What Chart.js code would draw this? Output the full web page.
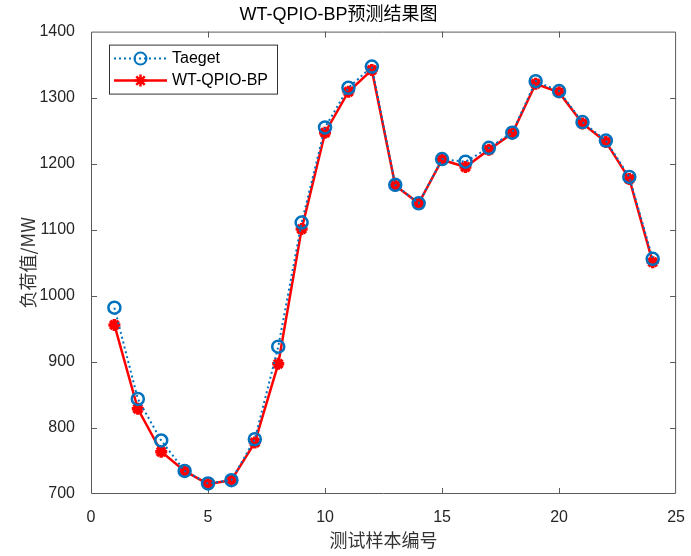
<!DOCTYPE html>
<html>
<head>
<meta charset="utf-8">
<script src="https://cdn.jsdelivr.net/npm/chart.js@4/dist/chart.umd.min.js"></script>
<style>
    html, body { margin: 0; padding: 0; background: #fff; }
</style>
</head>
<body>
<canvas id="load-chart" width="691" height="556"></canvas>
<script>
const sample_ids = [1, 2, 3, 4, 5, 6, 7, 8, 9, 10, 11, 12, 13, 14, 15, 16, 17, 18, 19, 20, 21, 22, 23, 24];
const target_values = [982, 844, 781, 735, 716, 721, 783, 923, 1111, 1255, 1315, 1347, 1168, 1140, 1207, 1203, 1224, 1247, 1325, 1310, 1263, 1235, 1180, 1056];
const predicted_values = [956, 829, 764, 735, 715, 721, 778, 897, 1101, 1247, 1309, 1342, 1167, 1140, 1206, 1195, 1221, 1246, 1321, 1308, 1261, 1233, 1177, 1051];
const x_ticks = [0, 5, 10, 15, 20, 25];
const y_ticks = [700, 800, 900, 1000, 1100, 1200, 1300, 1400];

const axis_color = "#262626";
const tick_font = { family: "'Liberation Sans', Arial, sans-serif", size: 16 };
const cjk_font = { family: "'Noto Sans CJK SC', sans-serif", size: 18 };

// MATLAB style box with inward ticks on all four sides
const box_plugin = {
    id: "box_plugin",
    beforeDatasetsDraw(chart) {
        const { ctx, chartArea: a, scales } = chart;
        const len = 6;
        ctx.save();
        ctx.strokeStyle = "#5a5a5a";
        ctx.lineWidth = 1;
        ctx.beginPath();
        ctx.rect(a.left + 0.5, a.top + 0.5, a.right - a.left - 1, a.bottom - a.top - 1);
        x_ticks.slice(1, -1).forEach((v) => {
            const px = Math.round(scales.x.getPixelForValue(v)) + 0.5;
            ctx.moveTo(px, a.bottom); ctx.lineTo(px, a.bottom - len);
            ctx.moveTo(px, a.top); ctx.lineTo(px, a.top + len);
        });
        y_ticks.slice(1, -1).forEach((v) => {
            const py = Math.round(scales.y.getPixelForValue(v)) + 0.5;
            ctx.moveTo(a.left, py); ctx.lineTo(a.left + len, py);
            ctx.moveTo(a.right, py); ctx.lineTo(a.right - len, py);
        });
        ctx.stroke();
        ctx.restore();
    }
};

// legend drawn like MATLAB: line sample with marker in the middle
const legend_plugin = {
    id: "legend_plugin",
    afterDraw(chart) {
        const { ctx, chartArea: a } = chart;
        const x0 = a.left + 18, y0 = a.top + 13, w = 168, h = 49;
        ctx.save();
        ctx.fillStyle = "#fff";
        ctx.fillRect(x0, y0, w, h);
        ctx.strokeStyle = "#333";
        ctx.lineWidth = 1;
        ctx.strokeRect(x0 + 0.5, y0 + 0.5, w, h);

        chart.data.datasets.forEach((ds, i) => {
            const cy = y0 + 14 + i * 22;
            const lx1 = x0 + 5, lx2 = x0 + 58, mx = (lx1 + lx2) / 2;
            ctx.strokeStyle = ds.borderColor;
            ctx.lineWidth = ds.borderWidth;
            ctx.setLineDash(ds.borderDash || []);
            ctx.beginPath();
            ctx.moveTo(lx1, cy); ctx.lineTo(lx2, cy);
            ctx.stroke();
            ctx.setLineDash([]);
            ctx.strokeStyle = ds.pointBorderColor;
            ctx.fillStyle = ds.pointBackgroundColor;
            Chart.helpers.drawPoint(ctx, {
                pointStyle: ds.pointStyle,
                radius: ds.pointRadius,
                borderWidth: ds.pointBorderWidth,
                rotation: 0
            }, mx, cy);
            ctx.fillStyle = "#000";
            ctx.font = "16px 'Liberation Sans', Arial, sans-serif";
            ctx.textBaseline = "middle";
            ctx.textAlign = "left";
            ctx.fillText(ds.label, x0 + 63, cy);
        });
        ctx.restore();
    }
};

const ctx = document.getElementById("load-chart").getContext("2d");

new Chart(ctx, {
    type: "line",
    data: {
        datasets: [
            {
                label: "Taeget",
                data: sample_ids.map((x, i) => ({ x, y: target_values[i] })),
                borderColor: "#0072BD",
                borderWidth: 2,
                borderDash: [2, 3],
                pointStyle: "circle",
                pointRadius: 6,
                pointBorderWidth: 2.5,
                pointBorderColor: "#0072BD",
                pointBackgroundColor: "rgba(0,0,0,0)",
                tension: 0
            },
            {
                label: "WT-QPIO-BP",
                data: sample_ids.map((x, i) => ({ x, y: predicted_values[i] })),
                borderColor: "#FF0000",
                borderWidth: 2.5,
                pointStyle: "star",
                pointRadius: 6,
                pointBorderWidth: 3.5,
                pointBorderColor: "#FF0000",
                pointBackgroundColor: "#FF0000",
                tension: 0
            }
        ]
    },
    options: {
        responsive: false,
        animation: false,
        devicePixelRatio: 1,
        layout: { padding: { top: 0, right: 14, bottom: 0, left: 0 } },
        plugins: {
            legend: { display: false },
            tooltip: { enabled: false },
            title: {
                display: true,
                text: "WT-QPIO-BP预测结果图",
                color: "#000",
                font: { family: "'Liberation Sans', 'Noto Sans CJK SC', sans-serif", size: 18, weight: "normal" },
                padding: { top: 4, bottom: 6 }
            }
        },
        scales: {
            x: {
                type: "linear",
                min: 0,
                max: 25,
                afterBuildTicks: (scale) => { scale.ticks = x_ticks.map((value) => ({ value })); },
                afterFit: (scale) => { scale.height = 62; },
                grid: { display: false },
                border: { display: false },
                ticks: { color: axis_color, font: tick_font, padding: 6, maxRotation: 0, callback: (v) => String(v) },
                title: { display: true, text: "测试样本编号", color: "#333", font: cjk_font, padding: { top: 0, bottom: 5 } }
            },
            y: {
                min: 700,
                max: 1400,
                afterBuildTicks: (scale) => { scale.ticks = y_ticks.map((value) => ({ value })); },
                afterFit: (scale) => { scale.width = 91; },
                grid: { display: false },
                border: { display: false },
                ticks: { color: axis_color, font: tick_font, padding: 8, callback: (v) => String(v) },
                title: { display: true, text: "负荷值/MW", color: "#333", font: cjk_font, padding: { top: 17, bottom: 0 } }
            }
        }
    },
    plugins: [box_plugin, legend_plugin]
});
</script>
</body>
</html>
